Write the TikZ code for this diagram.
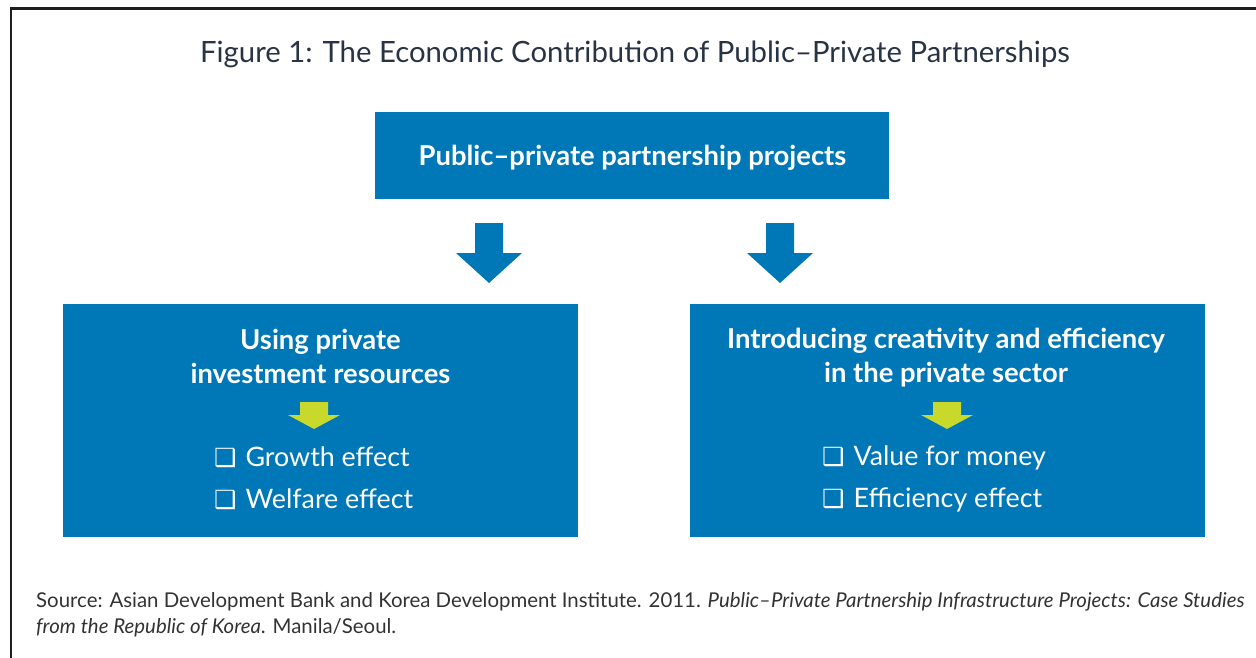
\documentclass[tikz,border=0pt]{standalone}
\usepackage{fontspec}
\setmainfont{Lato}
\newfontfamily\dejavu{DejaVu Sans}
\definecolor{adbblue}{RGB}{0,119,182}
\definecolor{lime}{RGB}{200,217,44}
\definecolor{titlecol}{RGB}{40,52,68}
\definecolor{srccol}{RGB}{50,50,50}
\definecolor{framecol}{RGB}{30,30,30}
\tikzset{
  box/.style={fill=adbblue, draw=none, inner sep=0pt, text=white},
  boxtitle/.style={text=white, font=\bfseries\fontsize{27.4}{34}\selectfont, align=center, inner sep=0pt},
  items/.style={text=white, font=\fontsize{26.8}{42}\selectfont, align=left, inner sep=0pt},
  srctext/.style={text=srccol, font=\fontsize{20.4}{26}\selectfont, anchor=base west, inner sep=0pt},
}
\newcommand{\downarrowshape}[7]{%
  \fill[#7] (#1-#3,#2) -- (#1+#3,#2) -- (#1+#3,#5) -- (#1+#4,#5) -- (#1,#6) -- (#1-#4,#5) -- (#1-#3,#5) -- cycle;}
\newcommand{\cb}{{\dejavu\fontsize{25}{25}\selectfont ❑}\hspace{9pt}}
\begin{document}
\begin{tikzpicture}[x=1pt,y=-1pt]
\useasboundingbox (0,0) rectangle (1256,658);
% frame
\draw[framecol, line width=2.6pt] (11,700) -- (11,8.5) -- (1300,8.5);
% title
\node[text=titlecol, font=\fontsize{29.3}{30}\selectfont, inner sep=0pt, anchor=base] (title) at (635,63) {Figure 1: The Economic Contribution of Public–Private Partnerships};
% top box
\path[box] (375,112) rectangle (889,199);
\node[boxtitle, anchor=base] (top) at (632.5,165) {Public–private partnership projects};
% big arrows
\downarrowshape{489}{223}{14}{33}{253}{283}{adbblue}
\downarrowshape{780}{223}{14}{33}{253}{283}{adbblue}
% left box
\path[box] (63,304) rectangle (578,537);
\node[boxtitle] (lt) at (320.5,356) {Using private\\investment resources};
\downarrowshape{314}{402}{14}{26}{415}{429}{lime}
\node[items, anchor=west] (li) at (214,478) {\cb Growth effect\\\cb Welfare effect};
% right box
\path[box] (690,304) rectangle (1205,537);
\node[boxtitle] (rt) at (946,358) {Introducing creativity and efficiency\\in the private sector};
\downarrowshape{947}{402}{14}{26}{415}{429}{lime}
\node[items, anchor=west] (ri) at (822,479) {\cb Value for money\\\cb Efficiency effect};
% source
\node[srctext] (src1) at (36,607) {Source: Asian Development Bank and Korea Development Institute. 2011. \textit{Public–Private Partnership Infrastructure Projects: Case Studies}};
\node[srctext] (src2) at (36,633) {\textit{from the Republic of Korea}. Manila/Seoul.};
\end{tikzpicture}
\end{document}
